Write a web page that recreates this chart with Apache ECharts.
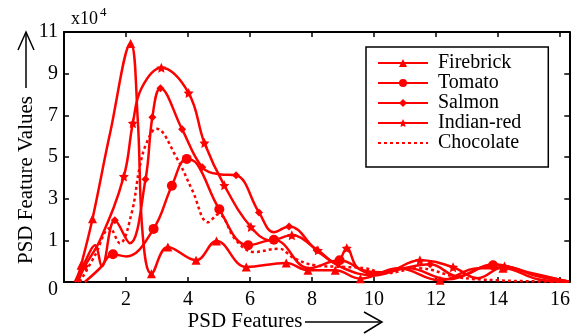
<!DOCTYPE html>
<html>
<head>
<meta charset="utf-8">
<script src="https://cdn.jsdelivr.net/npm/echarts@6/dist/echarts.min.js"></script>
<style>
  html, body { margin: 0; padding: 0; background: #fff; }
  #chart { width: 573px; height: 335px; }
</style>
</head>
<body>
<div id="chart"></div>
<script>
const seriesNames = ['Firebrick', 'Tomato', 'Salmon', 'Indian-red', 'Chocolate'];
const xTicks = [2, 4, 6, 8, 10, 12, 14, 16];
// y is in plot units 0..12, ticks every 2 carry these labels (x10^4)
const yTickLabels = ['0', '1', '3', '5', '7', '9', '11'];

const firebrickX = [0.39, 0.55, 0.92, 1.48, 2.15, 2.38, 2.54, 2.82, 3.35, 4.26, 4.92, 5.88, 7.17, 7.87, 8.75, 9.56, 10.79, 12.13, 13.35, 14.16, 15.28, 16.28];
const firebrickY = [0, 0.80, 3.04, 7.10, 11.45, 7.76, 2.24, 0.40, 1.68, 1.04, 1.97, 0.72, 0.91, 0.56, 0.56, 0.16, 0.66, 0.08, 0.66, 0.66, 0.13, 0.01];
const firebrickM = [0, 1, 1, 0, 1, 0, 0, 1, 1, 1, 1, 1, 1, 1, 1, 1, 0, 1, 0, 1, 0, 0];

const tomatoX = [0.67, 1.16, 1.58, 2.01, 2.89, 3.48, 3.96, 4.30, 5.01, 5.94, 6.77, 7.90, 8.89, 9.98, 11.11, 12.39, 13.84, 15.28, 16.28];
const tomatoY = [0, 0.66, 1.33, 1.23, 2.55, 4.62, 5.91, 5.65, 3.49, 1.76, 2.03, 0.66, 1.04, 0.37, 0.66, 0.13, 0.80, 0.32, 0.03];
const tomatoM = [0, 0, 1, 0, 1, 1, 1, 0, 1, 1, 1, 0, 1, 0, 0, 0, 1, 0, 0];

const salmonX = [0.35, 0.67, 1.00, 1.22, 1.64, 2.12, 2.63, 2.85, 3.11, 3.81, 4.46, 5.01, 5.55, 6.29, 6.77, 7.26, 8.15, 9.02, 9.98, 10.95, 11.81, 12.71, 13.84, 14.96, 16.28];
const salmonY = [0, 0.95, 1.76, 0.75, 2.96, 1.86, 4.93, 7.91, 9.30, 7.33, 5.51, 5.17, 5.12, 3.34, 2.39, 2.67, 1.52, 0.66, 0.32, 0.66, 0.85, 0.27, 0.85, 0.47, 0.01];
const salmonM = [0, 0, 0, 0, 1, 0, 1, 1, 1, 1, 1, 0, 1, 1, 0, 1, 1, 0, 0, 0, 1, 0, 1, 0, 0];

const indianRedX = [0.45, 0.67, 1.16, 1.93, 2.22, 2.50, 3.14, 4.02, 4.53, 5.17, 6.03, 6.68, 7.35, 8.19, 8.80, 9.12, 9.50, 10.31, 11.48, 12.55, 13.35, 14.21, 15.28, 16.28];
const indianRedY = [0, 0.75, 2.00, 5.07, 7.62, 9.30, 10.28, 9.07, 6.67, 4.64, 2.64, 2.00, 2.24, 1.52, 0.90, 1.62, 0.66, 0.47, 1.04, 0.71, 0.18, 0.75, 0.27, 0.03];
const indianRedM = [0, 1, 0, 1, 1, 0, 1, 1, 1, 1, 1, 0, 1, 1, 0, 1, 0, 0, 1, 1, 0, 1, 0, 0];

const chocolateX = [0.51, 1.00, 1.48, 1.80, 2.18, 2.44, 2.66, 2.98, 3.62, 4.14, 4.65, 4.98, 5.55, 6.13, 6.93, 7.42, 8.11, 9.08, 9.72, 10.37, 11.43, 12.71, 14.00, 15.28, 16.28];
const chocolateY = [0, 1.28, 2.58, 1.86, 3.30, 5.51, 6.66, 7.36, 6.00, 4.40, 2.87, 3.25, 2.00, 1.44, 1.60, 1.14, 0.80, 0.72, 0.66, 0.42, 0.66, 0.23, 0.08, 0.03, 0];

const RED = '#ff0000';
const FONT = "'Liberation Serif', 'Times New Roman', serif";
const STAR = 'path://M0,-10L2.9,-4L9.5,-3.1L4.7,1.5L5.9,8.1L0,5L-5.9,8.1L-4.7,1.5L-9.5,-3.1L-2.9,-4Z';

function makeSeries(name, xs, ys, marks, symbol, symbolSize, dotted) {
  return {
    name: name,
    type: 'line',
    smooth: 0.4,
    symbol: symbol,
    symbolSize: symbolSize,
    showSymbol: true,
    data: xs.map((x, i) => ({ value: [x, ys[i]], symbol: marks && marks[i] ? symbol : 'none' })),
    lineStyle: { color: RED, width: 2.5, type: dotted ? [3, 3] : 'solid' },
    itemStyle: { color: RED },
  };
}

const axisLine = { show: true, onZero: false, lineStyle: { color: '#000', width: 2 } };
const tickStyle = { color: '#000', width: 1.5 };

const chart = echarts.init(document.getElementById('chart'));
chart.setOption({
  animation: false,
  backgroundColor: '#fff',
  grid: { left: 64, right: 1, top: 32, bottom: 53 },
  legend: {
    // the dotted series has no marker, so hide its legend symbol
    data: seriesNames.map((n) => (n === 'Chocolate' ? { name: n, itemStyle: { opacity: 0 } } : n)),
    orient: 'vertical',
    left: 366,
    top: 47,
    itemWidth: 50,
    itemHeight: 10,
    itemGap: 0,
    padding: [6, 27, 14, 11],
    borderColor: '#000',
    borderWidth: 1.5,
    backgroundColor: '#fff',
    textStyle: { fontSize: 20, fontFamily: FONT, color: '#000', lineHeight: 18, padding: [0, 0, 0, 5] },
  },
  xAxis: [
    {
      type: 'value', min: 0, max: 16.3, position: 'bottom',
      axisLine: axisLine,
      axisTick: { inside: true, length: 5, customValues: xTicks, lineStyle: tickStyle },
      axisLabel: { customValues: xTicks, fontSize: 20, fontFamily: FONT, color: '#000', margin: 8 },
      splitLine: { show: false },
    },
    {
      type: 'value', min: 0, max: 16.3, position: 'top',
      axisLine: axisLine,
      axisTick: { inside: true, length: 5, customValues: xTicks, lineStyle: tickStyle },
      axisLabel: { show: false },
      splitLine: { show: false },
    },
  ],
  yAxis: [
    {
      type: 'value', min: 0, max: 12, interval: 2, position: 'left',
      axisLine: axisLine,
      axisTick: { inside: true, length: 5, lineStyle: tickStyle },
      axisLabel: {
        fontSize: 20, fontFamily: FONT, color: '#000', margin: 6,
        formatter: (v) => (v === 0 ? '{lo|0}' : yTickLabels[v / 2]),
        rich: { lo: { fontSize: 20, fontFamily: FONT, color: '#000', padding: [16, 0, 0, 0] } },
      },
      splitLine: { show: false },
    },
    {
      type: 'value', min: 0, max: 12, interval: 2, position: 'right',
      axisLine: axisLine,
      axisTick: { inside: true, length: 5, lineStyle: tickStyle },
      axisLabel: { show: false },
      splitLine: { show: false },
    },
  ],
  graphic: [
    { type: 'text', x: 71, y: 28, style: { text: 'x10', font: '18px ' + FONT, fill: '#000', verticalAlign: 'bottom' } },
    { type: 'text', x: 100, y: 19, style: { text: '4', font: '13px ' + FONT, fill: '#000', verticalAlign: 'bottom' } },
    { type: 'text', x: 26, y: 180, rotation: Math.PI / 2, style: { text: 'PSD Feature Values', font: '21px ' + FONT, fill: '#000', align: 'center', verticalAlign: 'middle' } },
    { type: 'line', shape: { x1: 26, y1: 88, x2: 26, y2: 33 }, style: { stroke: '#000', lineWidth: 1.5 } },
    { type: 'polyline', shape: { points: [[18, 50], [26, 32], [34, 50]] }, style: { stroke: '#000', lineWidth: 1.5, fill: null } },
    { type: 'text', x: 245, y: 321, style: { text: 'PSD Features', font: '21px ' + FONT, fill: '#000', align: 'center', verticalAlign: 'middle' } },
    { type: 'line', shape: { x1: 305, y1: 322, x2: 381, y2: 322 }, style: { stroke: '#000', lineWidth: 1.5 } },
    { type: 'polyline', shape: { points: [[364, 312], [382, 322], [364, 333]] }, style: { stroke: '#000', lineWidth: 1.5, fill: null } },
  ],
  series: [
    makeSeries(seriesNames[0], firebrickX, firebrickY, firebrickM, 'triangle', 9, false),
    makeSeries(seriesNames[1], tomatoX, tomatoY, tomatoM, 'circle', 10, false),
    makeSeries(seriesNames[2], salmonX, salmonY, salmonM, 'diamond', 8, false),
    makeSeries(seriesNames[3], indianRedX, indianRedY, indianRedM, STAR, 10, false),
    makeSeries(seriesNames[4], chocolateX, chocolateY, null, 'none', 0, true),
  ],
});
</script>
</body>
</html>
